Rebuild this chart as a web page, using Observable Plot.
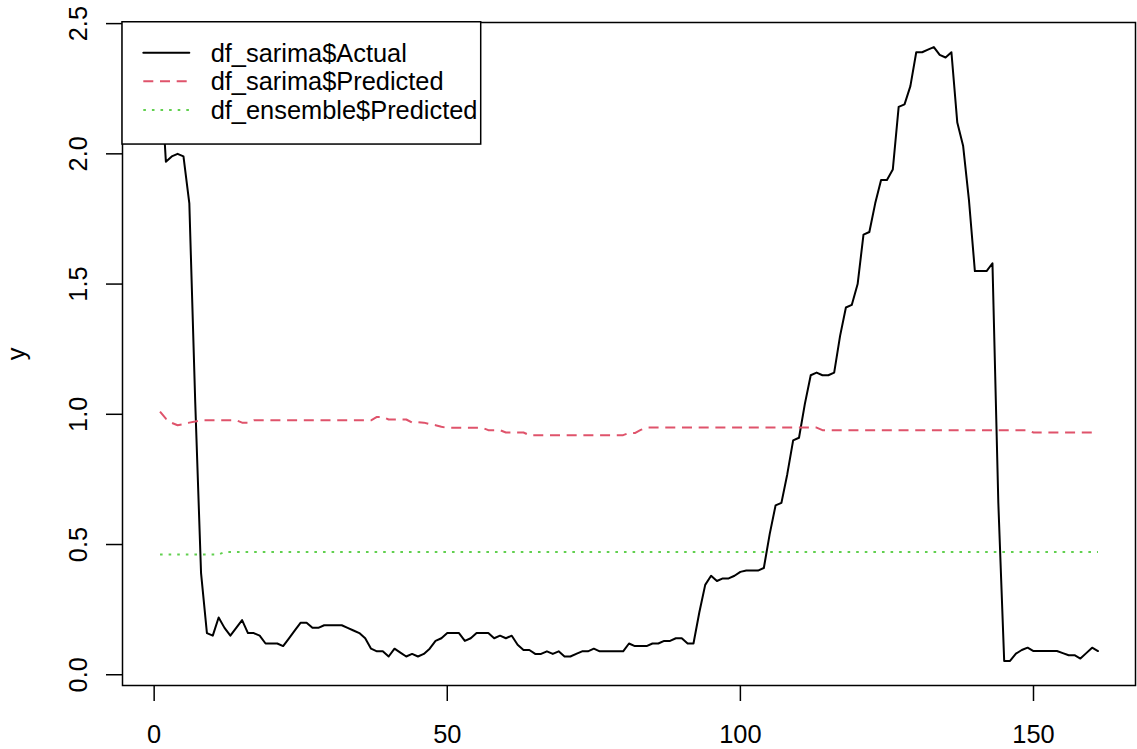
<!DOCTYPE html>
<html>
<head>
<meta charset="utf-8">
<script src="https://cdn.jsdelivr.net/npm/d3@7"></script>
<script src="https://cdn.jsdelivr.net/npm/@observablehq/plot@0.6"></script>
<style>
  html, body { margin: 0; padding: 0; background: #ffffff; }
  #wrap { position: relative; width: 1137px; height: 749px; overflow: hidden; }
  #legend { position: absolute; left: 121px; top: 21px; }
</style>
</head>
<body>
<div id="wrap">
  <div id="chart"></div>
  <svg id="legend" width="362" height="126"></svg>
</div>
<script>
// ---- data (index 1..161) ----
const actual = [
  2.35, 1.97, 1.99, 2.00, 1.99, 1.81, 1.05, 0.39, 0.16, 0.15,
  0.22, 0.18, 0.15, 0.18, 0.21, 0.16, 0.16, 0.15, 0.12, 0.12,
  0.12, 0.11, 0.14, 0.17, 0.20, 0.20, 0.18, 0.18, 0.19, 0.19,
  0.19, 0.19, 0.18, 0.17, 0.16, 0.14, 0.10, 0.09, 0.09, 0.07,
  0.10, 0.085, 0.07, 0.08, 0.07, 0.08, 0.10, 0.13, 0.14, 0.16,
  0.16, 0.16, 0.13, 0.14, 0.16, 0.16, 0.16, 0.14, 0.15, 0.14,
  0.15, 0.115, 0.095, 0.095, 0.08, 0.08, 0.09, 0.08, 0.09, 0.07,
  0.07, 0.08, 0.09, 0.09, 0.10, 0.09, 0.09, 0.09, 0.09, 0.09,
  0.12, 0.11, 0.11, 0.11, 0.12, 0.12, 0.13, 0.13, 0.14, 0.14,
  0.12, 0.12, 0.24, 0.345, 0.38, 0.36, 0.37, 0.37, 0.38, 0.395,
  0.40, 0.40, 0.40, 0.41, 0.54, 0.65, 0.66, 0.77, 0.90, 0.91,
  1.04, 1.15, 1.16, 1.15, 1.15, 1.16, 1.30, 1.41, 1.42, 1.50,
  1.69, 1.70, 1.81, 1.90, 1.90, 1.94, 2.18, 2.19, 2.26, 2.39,
  2.39, 2.40, 2.41, 2.38, 2.37, 2.39, 2.12, 2.03, 1.82, 1.55,
  1.55, 1.55, 1.58, 0.66, 0.053, 0.053, 0.081, 0.095, 0.104, 0.091,
  0.091, 0.091, 0.091, 0.091, 0.083, 0.075, 0.075, 0.062, 0.083, 0.104, 0.091
];
const sarimaPredicted = [
  1.01, 0.983, 0.967, 0.958, 0.962, 0.968, 0.972, 0.977, 0.977, 0.977,
  0.977, 0.977, 0.977, 0.977, 0.968, 0.968, 0.977, 0.977, 0.977, 0.977,
  0.977, 0.977, 0.977, 0.977, 0.977, 0.977, 0.977, 0.977, 0.977, 0.977,
  0.977, 0.977, 0.977, 0.977, 0.977, 0.977, 0.977, 0.99, 0.99, 0.98,
  0.98, 0.98, 0.98, 0.968, 0.97, 0.968, 0.962, 0.958, 0.952, 0.948,
  0.948, 0.948, 0.948, 0.948, 0.948, 0.948, 0.939, 0.939, 0.939, 0.93,
  0.93, 0.93, 0.93, 0.92, 0.92, 0.92, 0.92, 0.92, 0.92, 0.92,
  0.92, 0.92, 0.92, 0.92, 0.92, 0.92, 0.92, 0.92, 0.92, 0.92,
  0.928, 0.928, 0.94, 0.949, 0.949, 0.949, 0.949, 0.949, 0.949, 0.949,
  0.949, 0.949, 0.949, 0.949, 0.949, 0.949, 0.949, 0.949, 0.949, 0.949,
  0.949, 0.949, 0.949, 0.949, 0.949, 0.949, 0.949, 0.949, 0.949, 0.949,
  0.949, 0.949, 0.949, 0.939, 0.939, 0.939, 0.939, 0.939, 0.939, 0.939,
  0.939, 0.939, 0.939, 0.939, 0.939, 0.939, 0.939, 0.939, 0.939, 0.939,
  0.939, 0.939, 0.939, 0.939, 0.939, 0.939, 0.939, 0.939, 0.939, 0.939,
  0.939, 0.939, 0.939, 0.939, 0.939, 0.939, 0.939, 0.939, 0.939, 0.93,
  0.93, 0.93, 0.93, 0.93, 0.93, 0.93, 0.93, 0.93, 0.93, 0.93, 0.93
];
const ensemblePredicted = [
  0.462, 0.462, 0.462, 0.462, 0.462, 0.462, 0.462, 0.462, 0.462, 0.462,
  0.462, 0.471, 0.471, 0.471, 0.471, 0.471, 0.471, 0.471, 0.471, 0.471,
  0.471, 0.471, 0.471, 0.471, 0.471, 0.471, 0.471, 0.471, 0.471, 0.471,
  0.471, 0.471, 0.471, 0.471, 0.471, 0.471, 0.471, 0.471, 0.471, 0.471,
  0.471, 0.471, 0.471, 0.471, 0.471, 0.471, 0.471, 0.471, 0.471, 0.471,
  0.471, 0.471, 0.471, 0.471, 0.471, 0.471, 0.471, 0.471, 0.471, 0.471,
  0.471, 0.471, 0.471, 0.471, 0.471, 0.471, 0.471, 0.471, 0.471, 0.471,
  0.471, 0.471, 0.471, 0.471, 0.471, 0.471, 0.471, 0.471, 0.471, 0.471,
  0.471, 0.471, 0.471, 0.471, 0.471, 0.471, 0.471, 0.471, 0.471, 0.471,
  0.471, 0.471, 0.471, 0.471, 0.471, 0.471, 0.471, 0.471, 0.471, 0.471,
  0.471, 0.471, 0.471, 0.471, 0.471, 0.471, 0.471, 0.471, 0.471, 0.471,
  0.471, 0.471, 0.471, 0.471, 0.471, 0.471, 0.471, 0.471, 0.471, 0.471,
  0.471, 0.471, 0.471, 0.471, 0.471, 0.471, 0.471, 0.471, 0.471, 0.471,
  0.471, 0.471, 0.471, 0.471, 0.471, 0.471, 0.471, 0.471, 0.471, 0.471,
  0.471, 0.471, 0.471, 0.471, 0.471, 0.471, 0.471, 0.471, 0.471, 0.471,
  0.471, 0.471, 0.471, 0.471, 0.471, 0.471, 0.471, 0.471, 0.471, 0.471, 0.471
];
const seriesNames = ["df_sarima$Actual", "df_sarima$Predicted", "df_ensemble$Predicted"];
const seriesColors = ["#000000", "#DF536B", "#61D04F"];
const seriesDash = [null, "10,6.7", "2.6,6"];
const xTicks = [0, 50, 100, 150];
const yTicks = [0, 0.5, 1, 1.5, 2, 2.5];
const yLabel = "y";

// ---- build ----
const FONT = "'Liberation Sans', Arial, Helvetica, sans-serif";
const FS = 25.4;
const n = actual.length;
const xPad = 0.04 * (n - 1);
const [yMin, yMax] = d3.extent(actual);
const yPad = 0.04 * (yMax - yMin);
const series = [actual, sarimaPredicted, ensemblePredicted];

const lineMarks = series.map((vals, k) =>
  Plot.lineY(vals, {
    x: (d, i) => i + 1,
    y: d => d,
    stroke: seriesColors[k],
    strokeWidth: 2,
    strokeDasharray: seriesDash[k] ?? undefined,
    strokeLinecap: seriesDash[k] ? "butt" : "round",
    strokeLinejoin: "round"
  })
);

const chart = Plot.plot({
  width: 1137,
  height: 749,
  marginLeft: 122,
  marginRight: 2,
  marginTop: 22,
  marginBottom: 64,
  style: { fontFamily: FONT, fontSize: FS + "px", color: "#000", background: "#fff", overflow: "visible" },
  x: { domain: [1 - xPad, n + xPad] },
  y: { domain: [yMin - yPad, yMax + yPad] },
  marks: [
    Plot.axisX({ ticks: xTicks, tickSize: 16, tickPadding: 23.5, tickFormat: d => String(d), label: null, strokeWidth: 1.5, fontSize: FS }),
    Plot.axisY({ ticks: yTicks, tickSize: 16, tickPadding: 20, tickRotate: -90, tickFormat: d3.format(".1f"),
      label: yLabel, labelAnchor: "center", labelOffset: 116, labelArrow: "none", strokeWidth: 1.5, fontSize: FS }),
    ...lineMarks,
    Plot.frame({ stroke: "#000", strokeWidth: 1.5 })
  ]
});
document.getElementById("chart").appendChild(chart);

// ---- legend (overlay box, top-left of plot) ----
const leg = d3.select("#legend");
leg.append("rect").attr("x", 1).attr("y", 0.75).attr("width", 358.7).attr("height", 122.3)
  .attr("fill", "#fff").attr("stroke", "#000").attr("stroke-width", 1.5);
seriesNames.forEach((name, k) => {
  const yRow = 31.7 + k * 28.6;
  leg.append("line").attr("x1", 22.3).attr("x2", 68.3).attr("y1", yRow).attr("y2", yRow)
    .attr("stroke", seriesColors[k]).attr("stroke-width", 2)
    .attr("stroke-dasharray", seriesDash[k] || null)
    .attr("stroke-linecap", seriesDash[k] ? "butt" : "round");
  leg.append("text").attr("x", 89.7).attr("y", yRow + 9.1)
    .attr("font-family", FONT).attr("font-size", FS).attr("fill", "#000").text(name);
});
</script>
</body>
</html>
